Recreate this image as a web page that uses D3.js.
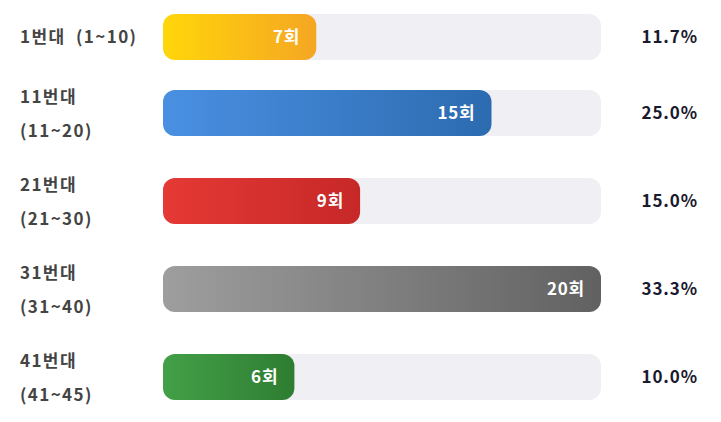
<!DOCTYPE html>
<html><head><meta charset="utf-8">
<script src="https://cdn.jsdelivr.net/npm/d3@7"></script>
<style>html,body{margin:0;padding:0;background:#fff;}</style>
</head><body>
<svg id="chart" width="721" height="422"></svg>
<script>
const labelLine1 = ["1번대  (1~10)", "11번대", "21번대", "31번대", "41번대"];
const labelLine2 = ["", "(11~20)", "(21~30)", "(31~40)", "(41~45)"];
const counts = [7, 15, 9, 20, 6];
const percents = ["11.7%", "25.0%", "15.0%", "33.3%", "10.0%"];
const colorStart = ["#FFD60A", "#4A90E2", "#E53935", "#9E9E9E", "#43A047"];
const colorEnd = ["#F5A623", "#2C6BB0", "#C62828", "#616161", "#2E7D32"];

const svg = d3.select("#chart");
const font = "'Noto Sans CJK KR', 'Noto Sans', sans-serif";
const trackX = 163, trackW = 438, barH = 46, gap = 18;
const x = d3.scaleLinear().domain([0, d3.max(counts)]).range([0, trackW]);

const rows = counts.map((c, i) => ({i, c, l1: labelLine1[i], l2: labelLine2[i], p: percents[i]}));
let y = 14;
rows.forEach(r => {
  const h = r.l2 ? 70 : 46;
  r.cy = y + h / 2;
  y += h + gap;
});

const defs = svg.append("defs");
rows.forEach(r => {
  const g = defs.append("linearGradient").attr("id", "g" + r.i)
    .attr("x1", "0%").attr("x2", "100%").attr("y1", "0%").attr("y2", "0%");
  g.append("stop").attr("offset", "0%").attr("stop-color", colorStart[r.i]);
  g.append("stop").attr("offset", "100%").attr("stop-color", colorEnd[r.i]);
});

const row = svg.selectAll("g.row").data(rows).join("g").attr("class", "row");

row.append("rect").attr("x", trackX).attr("y", d => d.cy - barH / 2)
  .attr("width", trackW).attr("height", barH).attr("rx", 12).attr("fill", "#F0F0F4");

row.append("rect").attr("x", trackX).attr("y", d => d.cy - barH / 2)
  .attr("width", d => x(d.c)).attr("height", barH).attr("rx", 12)
  .attr("fill", d => `url(#g${d.i})`);

row.append("text").attr("x", d => trackX + x(d.c) - 16).attr("y", d => d.cy)
  .attr("dy", "0.36em").attr("text-anchor", "end")
  .attr("font-family", font).attr("font-weight", 700).attr("font-size", 17)
  .attr("letter-spacing", 0.8)
  .attr("fill", "#fff").text(d => d.c + "회");

row.append("text").attr("x", 698).attr("y", d => d.cy)
  .attr("dy", "0.36em").attr("text-anchor", "end")
  .attr("font-family", font).attr("font-weight", 700).attr("font-size", 17)
  .attr("letter-spacing", 0.9)
  .attr("fill", "#1a1a2e").text(d => d.p);

const lab = row.append("text").attr("x", 20)
  .attr("font-family", font).attr("font-weight", 700).attr("font-size", 17)
  .attr("letter-spacing", 1.4)
  .attr("fill", "#444").attr("xml:space", "preserve");
lab.append("tspan").attr("x", 20).attr("y", d => d.l2 ? d.cy - 16 : d.cy).attr("dy", "0.36em").text(d => d.l1);
lab.filter(d => d.l2).append("tspan").attr("x", 20).attr("y", d => d.cy + 18).attr("dy", "0.36em").text(d => d.l2);
</script>
</body></html>
